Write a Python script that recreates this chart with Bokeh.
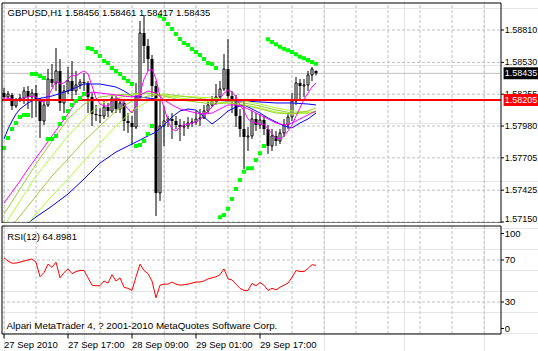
import numpy as np
from bokeh.plotting import figure
from bokeh.layouts import column
from bokeh.models import ColumnDataSource, Range1d
from bokeh.embed import file_html
from bokeh.resources import INLINE
from bokeh.core.properties import value

FONT = "Liberation Sans"

# ---------------- data ----------------
title_text = "GBPUSD,H1 1.58456 1.58461 1.58417 1.58435"
rsi_title = "RSI(12) 64.8981"
copyright_text = "Alpari MetaTrader 4, ? 2001-2010 MetaQuotes Software Corp."
time_label_bars = [0, 16, 32, 48, 64]
time_labels = ["27 Sep 2010", "27 Sep 17:00", "28 Sep 09:00", "29 Sep 01:00", "29 Sep 17:00"]
price_ticks = [1.58810, 1.58530, 1.58255, 1.57980, 1.57705, 1.57425, 1.57150]
rsi_ticks = [100, 70, 30, 0]
rsi_levels = [70, 30]
bid_price = 1.58435
level_price = 1.58205

open_ = [1.58265, 1.58231, 1.58248, 1.58153, 1.58205, 1.58222, 1.58283, 1.58231, 1.58265, 1.58196,
         1.58023, 1.58162, 1.58386, 1.58352, 1.58456, 1.58179, 1.58283, 1.58369, 1.58283, 1.58335,
         1.58360, 1.58352, 1.58231, 1.58084, 1.58075, 1.58066, 1.58144, 1.58110, 1.58222, 1.58127,
         1.58179, 1.58023, 1.58006, 1.57971, 1.58231, 1.58784, 1.58672, 1.58559, 1.58326, 1.57401,
         1.57980, 1.58023, 1.58041, 1.58023, 1.57989, 1.57971, 1.57980, 1.58006, 1.58015, 1.58041,
         1.58049, 1.58110, 1.58162, 1.58196, 1.58231, 1.58300, 1.58473, 1.58239, 1.58213, 1.58066,
         1.57954, 1.57885, 1.57894, 1.58041, 1.57989, 1.58032, 1.57954, 1.57807, 1.57894, 1.57850,
         1.57920, 1.57989, 1.58058, 1.58196, 1.58352, 1.58326, 1.58335, 1.58421, 1.58456]
high = [1.58309, 1.58283, 1.58265, 1.58222, 1.58257, 1.58317, 1.58326, 1.58300, 1.58335, 1.58222,
        1.58213, 1.58473, 1.58516, 1.58654, 1.58559, 1.58335, 1.58490, 1.58542, 1.58456, 1.58386,
        1.58438, 1.58369, 1.58265, 1.58162, 1.58136, 1.58196, 1.58179, 1.58248, 1.58239, 1.58213,
        1.58196, 1.58092, 1.58066, 1.58352, 1.58888, 1.58940, 1.58732, 1.58594, 1.58369, 1.58196,
        1.58153, 1.58066, 1.58092, 1.58066, 1.58041, 1.58023, 1.58058, 1.58049, 1.58110, 1.58127,
        1.58162, 1.58196, 1.58239, 1.58343, 1.58369, 1.58603, 1.58732, 1.58283, 1.58248, 1.58127,
        1.58196, 1.57971, 1.58110, 1.58092, 1.58084, 1.58066, 1.57989, 1.57954, 1.57937, 1.57954,
        1.58041, 1.58092, 1.58265, 1.58404, 1.58386, 1.58386, 1.58456, 1.58490, 1.58461]
low = [1.58196, 1.58205, 1.58118, 1.58136, 1.58188, 1.58170, 1.58127, 1.58049, 1.58058, 1.57876,
       1.57989, 1.58144, 1.58317, 1.58283, 1.58110, 1.58092, 1.58257, 1.58213, 1.58248, 1.58300,
       1.58283, 1.58092, 1.57980, 1.58023, 1.58006, 1.58041, 1.58058, 1.58092, 1.58092, 1.58092,
       1.57937, 1.57920, 1.57816, 1.57954, 1.58196, 1.58525, 1.58456, 1.58231, 1.57202, 1.57332,
       1.57807, 1.57971, 1.57868, 1.57954, 1.57850, 1.57894, 1.57954, 1.57971, 1.57989, 1.57980,
       1.58041, 1.58092, 1.58144, 1.58162, 1.58213, 1.58283, 1.58196, 1.58092, 1.57971, 1.57885,
       1.57608, 1.57764, 1.57868, 1.57937, 1.57954, 1.57902, 1.57738, 1.57764, 1.57807, 1.57824,
       1.57885, 1.57954, 1.58023, 1.58162, 1.58196, 1.58231, 1.58283, 1.58369, 1.58417]
close = [1.58231, 1.58257, 1.58153, 1.58205, 1.58222, 1.58283, 1.58231, 1.58265, 1.58196, 1.58023,
         1.58162, 1.58386, 1.58352, 1.58456, 1.58179, 1.58283, 1.58369, 1.58283, 1.58335, 1.58360,
         1.58352, 1.58231, 1.58084, 1.58075, 1.58066, 1.58144, 1.58110, 1.58222, 1.58127, 1.58179,
         1.58023, 1.58006, 1.57971, 1.58231, 1.58784, 1.58672, 1.58559, 1.58326, 1.57401, 1.57980,
         1.58023, 1.58041, 1.58023, 1.57989, 1.57971, 1.57980, 1.58006, 1.58015, 1.58041, 1.58049,
         1.58110, 1.58162, 1.58196, 1.58231, 1.58300, 1.58473, 1.58239, 1.58213, 1.58066, 1.57954,
         1.57885, 1.57894, 1.58041, 1.57989, 1.58032, 1.57954, 1.57807, 1.57894, 1.57850, 1.57920,
         1.57989, 1.58058, 1.58196, 1.58352, 1.58326, 1.58335, 1.58421, 1.58473, 1.58435]

nan = float("nan")
sar = [1.57790, 1.57876, 1.57954, 1.58006, 1.58058, 1.58075, 1.58075,
       1.58430, 1.58430, 1.58412, 1.58395,
       1.57868, 1.57868, 1.57894, 1.57997, 1.58049, 1.58110, 1.58162, 1.58196, 1.58222, 1.58257,
       1.58654, 1.58646, 1.58620, 1.58585, 1.58542, 1.58525, 1.58481, 1.58456, 1.58430, 1.58395,
       1.58369, 1.58343,
       1.57807, 1.57816, 1.57850, 1.57911, 1.57980,
       nan,
       1.58931, 1.58905, 1.58862, 1.58819, 1.58775, 1.58732, 1.58698, 1.58680, 1.58646, 1.58620,
       1.58594, 1.58559, 1.58525, 1.58516, 1.58481,
       1.57190, 1.57211, 1.57265, 1.57349, 1.57435, 1.57513, 1.57585, 1.57614, 1.57614, 1.57686,
       1.57744, 1.57807,
       1.58730, 1.58706, 1.58686, 1.58666, 1.58648, 1.58635, 1.58620, 1.58600, 1.58579, 1.58565,
       1.58551, 1.58533, 1.58519]

ma_fast = [1.58222, 1.58222, 1.58213, 1.58205, 1.58205, 1.58222, 1.58231, 1.58239, 1.58231, 1.58196,
           1.58188, 1.58231, 1.58300, 1.58369, 1.58343, 1.58352, 1.58386, 1.58421, 1.58412, 1.58438,
           1.58456, 1.58430, 1.58326, 1.58222, 1.58170, 1.58153, 1.58153, 1.58196, 1.58222, 1.58213,
           1.58170, 1.58127, 1.58092, 1.58153, 1.58265, 1.58386, 1.58456, 1.58473, 1.58386, 1.58239,
           1.58144, 1.58023, 1.57954, 1.57937, 1.57971, 1.57989, 1.57997, 1.58006, 1.58015, 1.58041,
           1.58075, 1.58110, 1.58144, 1.58179, 1.58213, 1.58265, 1.58291, 1.58274, 1.58231, 1.58162,
           1.58110, 1.58041, 1.58015, 1.58006, 1.57997, 1.57997, 1.57954, 1.57911, 1.57876, 1.57868,
           1.57894, 1.57937, 1.57989, 1.58066, 1.58136, 1.58213, 1.58265, 1.58317, 1.58352]

ma_mid_bars = list(range(0, 79, 2))
ma_mid = [1.57314, 1.57409, 1.57504, 1.57608, 1.57703, 1.57798, 1.57894, 1.57989, 1.58084, 1.58188,
          1.58248, 1.58274, 1.58265, 1.58257, 1.58248, 1.58239, 1.58231, 1.58248, 1.58283, 1.58265,
          1.58205, 1.58162, 1.58127, 1.58110, 1.58092, 1.58084, 1.58092, 1.58127, 1.58162, 1.58162,
          1.58144, 1.58110, 1.58075, 1.58041, 1.58006, 1.57989, 1.58006, 1.58041, 1.58075, 1.58110]

ma_green_bars = list(range(0, 77, 4)) + [78]
ma_green1 = [1.57219, 1.57435, 1.57651, 1.57850, 1.58041, 1.58170, 1.58231, 1.58248, 1.58257, 1.58265,
             1.58239, 1.58205, 1.58188, 1.58170, 1.58179, 1.58162, 1.58127, 1.58092, 1.58084, 1.58110, 1.58136]
ma_green2 = [1.57115, 1.57332, 1.57548, 1.57721, 1.57894, 1.58041, 1.58170, 1.58222, 1.58248, 1.58265,
             1.58248, 1.58222, 1.58205, 1.58188, 1.58179, 1.58162, 1.58136, 1.58101, 1.58084, 1.58092, 1.58110]
ma_green3 = [1.57029, 1.57202, 1.57375, 1.57548, 1.57695, 1.57850, 1.57980, 1.58110, 1.58196, 1.58239,
             1.58257, 1.58239, 1.58222, 1.58205, 1.58196, 1.58179, 1.58153, 1.58118, 1.58092, 1.58092, 1.58101]
ma_green4 = [1.56899, 1.57055, 1.57219, 1.57375, 1.57522, 1.57677, 1.57833, 1.57980, 1.58110, 1.58196,
             1.58231, 1.58239, 1.58231, 1.58222, 1.58213, 1.58196, 1.58170, 1.58136, 1.58110, 1.58101, 1.58101]

ma_blue2_bars = [0, 1, 2, 3, 4, 6, 8, 12, 16, 20, 24, 28, 30, 32, 36, 40, 44, 48, 52, 56, 60, 64, 68, 72, 76, 78]
ma_blue2 = [1.57868, 1.57954, 1.58023, 1.58084, 1.58127, 1.58179, 1.58213, 1.58239, 1.58283, 1.58343,
            1.58343, 1.58317, 1.58283, 1.58239, 1.58222, 1.58205, 1.58205, 1.58205, 1.58205, 1.58196,
            1.58196, 1.58188, 1.58179, 1.58179, 1.58170, 1.58162]

ma_blue1_bars = [4, 8, 12, 16, 20, 24, 28, 32, 36, 38, 40, 42, 44, 46, 48, 50, 52, 54, 56, 58,
                 60, 62, 64, 66, 68, 70, 72, 74, 76, 78]
ma_blue1 = [1.57090, 1.57193, 1.57288, 1.57392, 1.57522, 1.57660, 1.57755, 1.57824, 1.57894, 1.57928,
            1.57989, 1.58058, 1.58110, 1.58127, 1.58118, 1.58058, 1.57997, 1.58049, 1.58110, 1.58144,
            1.58162, 1.58127, 1.58092, 1.58049, 1.58015, 1.57980, 1.57963, 1.58006, 1.58041, 1.58092]

rsi = [72, 69, 67, 67, 68, 69, 70, 71, 68, 54,
       58, 66, 63, 68, 53, 58, 61.5, 57, 59, 60,
       60, 53, 46, 45.5, 45.5, 50, 48, 56, 50, 53,
       44, 43, 41, 54, 66, 60, 57, 50, 34, 46,
       47, 47, 49, 47, 46, 46.5, 47, 48, 49, 49,
       50, 52, 53, 54, 56, 61.5, 52, 51, 47, 43,
       41, 41, 47.7, 45.5, 48.5, 46, 41, 43, 41.6, 44,
       46, 48, 53.5, 60, 59, 59, 62, 65.5, 64.8981]

# ---------------- layout constants (pixels -> data) ----------------
GRID_COLOR = "#c0c0c0"
GRID_DASH = "3 2"
grid_bars = list(range(0, 121, 8))
FS = "9.5px"
FS_SCALE = "9px"

K = (price_ticks[0] - price_ticks[-1]) / 192.0        # price per pixel
R = 1.05                                             # RSI pixels per unit
X_LEFT, X_RIGHT = -0.875, 133.625                    # 4 px per bar over 538 px
BOX_L, BOX_R = -0.5, 124.25
LBL_X = BOX_R + 0.95
main_yr = Range1d(price_ticks[0] - 193.5 * K, price_ticks[0] + 29.5 * K)
box_top = price_ticks[0] + 27 * K
box_bottom = price_ticks[0] - 193 * K

bars = np.arange(len(close))
o = np.array(open_); c = np.array(close)
up = c >= o
src_up = ColumnDataSource(dict(x=bars[up], top=np.maximum(o, c)[up], bottom=np.minimum(o, c)[up]))
src_dn = ColumnDataSource(dict(x=bars[~up], top=np.maximum(o, c)[~up], bottom=np.minimum(o, c)[~up]))
src_wick = ColumnDataSource(dict(x=bars, high=high, low=low))


def base_fig(h, yr):
    f = figure(width=538, height=h, x_range=Range1d(X_LEFT, X_RIGHT), y_range=yr,
               output_backend="svg", toolbar_location=None, x_axis_location=None,
               y_axis_location=None, min_border_left=0, min_border_right=0,
               min_border_top=0, min_border_bottom=0, outline_line_color=None,
               background_fill_color="white", border_fill_color="white")
    return f


# ---------------- main price panel ----------------
p = base_fig(223, main_yr)
p.segment(x0=BOX_L, x1=BOX_R, y0=price_ticks, y1=price_ticks, line_color=GRID_COLOR,
          line_dash=GRID_DASH, line_width=1)
p.segment(x0=grid_bars, x1=grid_bars, y0=box_bottom, y1=box_top, line_color=GRID_COLOR,
          line_dash=GRID_DASH, line_width=1)
p.segment(x0=BOX_L, x1=BOX_R, y0=bid_price, y1=bid_price, line_color="#c0c0c0", line_width=1)

# candles
p.segment(x0="x", y0="low", x1="x", y1="high", source=src_wick, line_color="black", line_width=1)
p.vbar(x="x", top="top", bottom="bottom", width=0.5, source=src_up,
       fill_color="white", line_color="black", line_width=1)
p.vbar(x="x", top="top", bottom="bottom", width=0.75, source=src_dn,
       fill_color="black", line_color=None)

# moving averages
p.line(ma_blue1_bars, ma_blue1, line_color="#0000ff", line_width=1)
p.line(ma_blue2_bars, ma_blue2, line_color="#0000ff", line_width=1)
p.line(ma_green_bars, ma_green4, line_color="#adff2f", line_width=1)
p.line(ma_green_bars, ma_green3, line_color="#9acd32", line_width=1)
p.line(ma_green_bars, ma_green2, line_color="#adff2f", line_width=1)
p.line(ma_green_bars, ma_green1, line_color="#9acd32", line_width=1)
p.line(ma_mid_bars, ma_mid, line_color="#ff00ff", line_width=1)
p.line(bars, ma_fast, line_color="#ff00ff", line_width=1)

p.segment(x0=BOX_L, x1=BOX_R, y0=level_price, y1=level_price, line_color="#ff0000", line_width=2)

# parabolic SAR
p.scatter(bars, np.array(sar), marker="square", size=4, fill_color="#00ff00", line_color=None)

# frame
p.line([BOX_L, BOX_R, BOX_R, BOX_L, BOX_L], [box_top, box_top, box_bottom, box_bottom, box_top],
       line_color="black", line_width=1)

# right price scale
p.segment(x0=BOX_R, x1=BOX_R + 0.75, y0=price_ticks, y1=price_ticks, line_color="black")
offs = [0] * (len(price_ticks) - 1) + [-3]
p.text(x=LBL_X, y=price_ticks, text=["%.5f" % t for t in price_ticks], y_offset=offs,
       text_font=value(FONT), text_font_size=FS_SCALE, text_baseline="middle", text_align="left",
       text_color="black")
for lvl, col in [(bid_price, "black"), (level_price, "#ff0000")]:
    p.quad(left=BOX_R + 0.65, right=X_RIGHT, top=lvl + 6 * K, bottom=lvl - 6 * K,
           fill_color=col, line_color=None)
    p.text(x=[LBL_X], y=[lvl], text=["%.5f" % lvl], text_font=value(FONT),
           text_font_size=FS_SCALE, text_baseline="middle", text_align="left", text_color="white")

p.text(x=[0.875], y=[price_ticks[0] + 18 * K], text=[title_text], text_font=value(FONT),
       text_font_size=FS, text_baseline="middle", text_align="left", text_color="black")

# ---------------- RSI panel ----------------
rsi_yr = Range1d(30 - 49.5 / R, 70 + 36.5 / R)
rbox_top = 70 + 34 / R
rbox_bottom = 30 - 32 / R
p2 = base_fig(128, rsi_yr)
p2.segment(x0=BOX_L, x1=BOX_R, y0=rsi_levels, y1=rsi_levels, line_color=GRID_COLOR,
           line_dash=GRID_DASH, line_width=1)
p2.segment(x0=grid_bars, x1=grid_bars, y0=rbox_bottom, y1=rbox_top, line_color=GRID_COLOR,
           line_dash=GRID_DASH, line_width=1)
p2.line(bars, rsi, line_color="#ff0000", line_width=1)
p2.line([BOX_L, BOX_R, BOX_R, BOX_L, BOX_L], [rbox_top, rbox_top, rbox_bottom, rbox_bottom, rbox_top],
        line_color="black", line_width=1)

rsi_offs = [5, 0, 0, -5]
tick_y = [v - off / R for v, off in zip(rsi_ticks, rsi_offs)]
p2.segment(x0=BOX_R, x1=BOX_R + 0.75, y0=tick_y, y1=tick_y, line_color="black")
p2.text(x=LBL_X, y=rsi_ticks, text=[str(t) for t in rsi_ticks], y_offset=rsi_offs,
        text_font=value(FONT), text_font_size=FS, text_baseline="middle", text_align="left",
        text_color="black")

# time scale
p2.segment(x0=time_label_bars, x1=time_label_bars, y0=rbox_bottom, y1=30 - 36.5 / R,
           line_color="black")
p2.text(x=time_label_bars, y=30 - 42 / R, text=time_labels, text_font=value(FONT),
        text_font_size=FS, text_baseline="middle", text_align="left", text_color="black")

p2.text(x=[0.8], y=[70 + 23.5 / R], text=[rsi_title], text_font=value(FONT), text_font_size=FS,
        text_baseline="middle", text_align="left", text_color="black")
p2.text(x=[0.625], y=[70 - 65.5 / R], text=[copyright_text], text_font=value(FONT),
        text_font_size="9.8px", text_baseline="middle", text_align="left", text_color="black")

layout = column(p, p2, spacing=0)
open("out.html", "w").write(file_html(layout, INLINE))
